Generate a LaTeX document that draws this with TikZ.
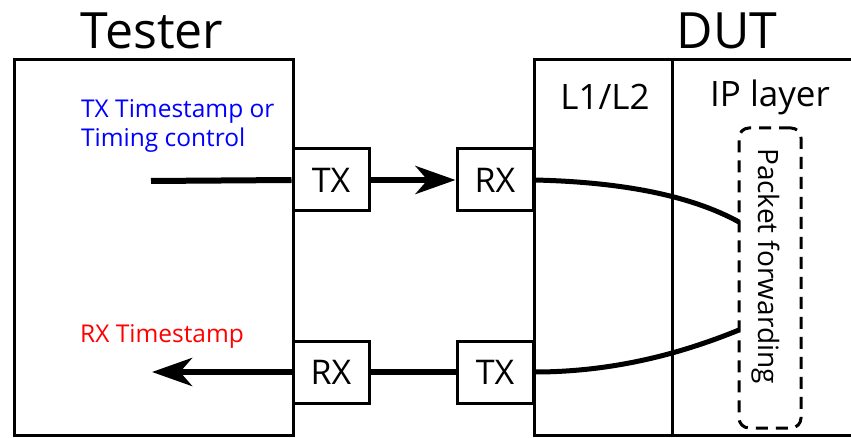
\documentclass[tikz,border=0pt]{standalone}
\usepackage{fontspec}
\setmainfont{Open Sans}
\usetikzlibrary{arrows.meta}
\definecolor{tsblue}{RGB}{0,0,255}
\definecolor{tsred}{RGB}{255,0,0}
\tikzset{
  frame/.style={line width=3pt},
  port/.style={draw, line width=3pt, fill=white, minimum width=76pt, minimum height=62pt, inner sep=0pt, font=\fontsize{34}{40}\selectfont},
  title/.style={font=\fontsize{50}{56}\selectfont, inner sep=0pt},
  layer/.style={font=\fontsize{35}{40}\selectfont, inner sep=0pt},
  note/.style={font=\fontsize{24.5}{29}\selectfont, inner sep=0pt, anchor=base west, align=left},
  sig/.style={line width=6pt},
  arr/.style={sig, -{Stealth[length=40pt, width=28pt, inset=12pt]}},
  curve/.style={line width=5pt},
}
\begin{document}
\begin{tikzpicture}[x=1pt,y=-1pt]
\useasboundingbox (0,0) rectangle (851,438);
% boxes
\draw[frame] (14,60) rectangle (293,435);
\draw[frame] (855,60) -- (534,60) -- (534,435) -- (855,435);
\draw[frame] (672,60) -- (672,435);
% titles
\node[title] (tester) at (152,31) {Tester};
\node[title] (dut) at (727,31) {DUT};
\node[layer] (l1l2) at (605,97) {L1/L2};
\node[layer] (ipl) at (770,97) {IP layer};
% notes
\node[note, text=tsblue] (txts) at (81,147) {TX Timestamp or\\Timing control};
\node[note, text=tsred] (rxts) at (80,342) {RX Timestamp};
% packet forwarding
\node[draw, dashed, dash pattern=on 12pt off 8pt, line width=3pt, rounded corners=10pt, minimum width=62pt, minimum height=300pt, inner sep=0pt] (pf) at (770,278) {};
\node[rotate=-90, font=\fontsize{28}{32}\selectfont, inner sep=0pt] (pft) at (766,266) {Packet forwarding};
% ports
\node[port] (ttx) at (331,180) {TX};
\node[port] (drx) at (495,180) {RX};
\node[port] (trx) at (331,372) {RX};
\node[port] (dtx) at (495,372) {TX};
% signals
\coordinate (tin) at (151,181);
\coordinate (tout) at (152,372);
\coordinate (pfin) at (739,222);
\coordinate (pfout) at (739,330);
\draw[sig] (tin) -- (ttx.west);
\draw[arr] (ttx.east) -- (drx.west);
\draw[sig] (dtx.west) -- (trx.east);
\draw[arr] (trx.west) -- (tout);
\draw[curve] (drx.east) .. controls (620,182) and (690,195) .. (pfin);
\draw[curve] (dtx.east) .. controls (620,372) and (690,350) .. (pfout);
\end{tikzpicture}
\end{document}
